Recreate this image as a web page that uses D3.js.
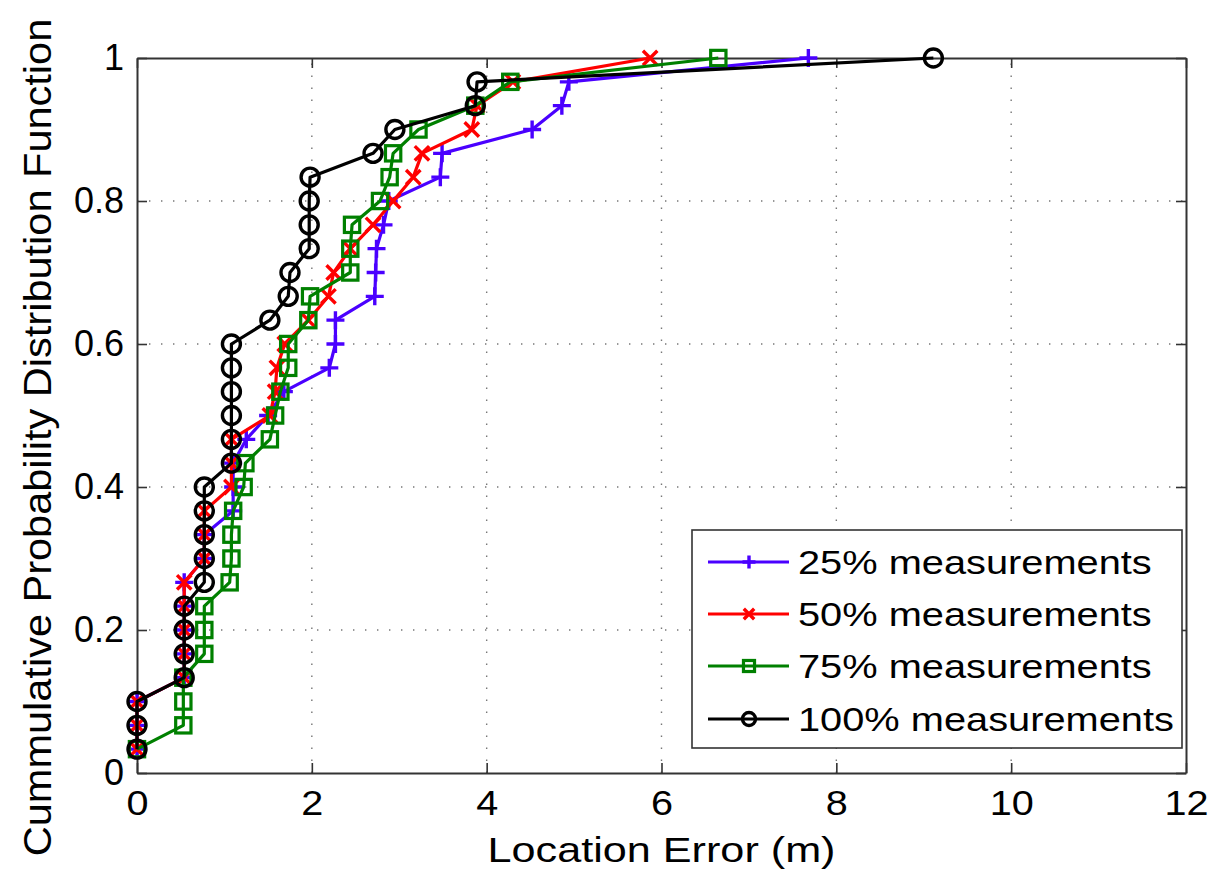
<!DOCTYPE html>
<html><head><meta charset="utf-8">
<script src="https://cdn.jsdelivr.net/npm/d3@7"></script>
<style>
html,body{margin:0;padding:0;background:#fff;}
svg text{font-family:"Liberation Sans",Arial,Helvetica,sans-serif;fill:#000;}
</style></head>
<body>
<svg id="chart" width="1211" height="872"></svg>
<script>
// CDF levels (k/30)
const cdfLevels = d3.range(1, 31).map(k => k / 30);
// Location errors (m) per series
const err25  = [0,0,0,0.54,0.54,0.54,0.54,0.54,0.77,0.77,1.1,1.1,1.1,1.25,1.5,1.68,2.2,2.27,2.27,2.72,2.73,2.74,2.82,2.88,3.47,3.49,4.52,4.86,4.94,7.68];
const err50  = [0,0,0,0.54,0.54,0.54,0.54,0.54,0.77,0.77,0.77,1.08,1.08,1.08,1.52,1.58,1.6,1.69,1.96,2.19,2.25,2.44,2.7,2.93,3.16,3.26,3.83,3.89,4.3,5.87];
const err75  = [0,0.53,0.53,0.53,0.77,0.77,0.77,1.06,1.08,1.08,1.1,1.22,1.24,1.52,1.58,1.64,1.73,1.73,1.96,1.98,2.44,2.44,2.46,2.78,2.89,2.93,3.22,3.87,4.27,6.65];
const err100 = [0,0,0,0.54,0.54,0.54,0.54,0.77,0.77,0.77,0.77,0.77,1.08,1.08,1.08,1.08,1.08,1.08,1.52,1.73,1.75,1.97,1.97,1.97,1.98,2.7,2.95,3.87,3.89,9.11];
const seriesNames = ["25% measurements","50% measurements","75% measurements","100% measurements"];
const seriesColors = ["#4a00ff","#ff0000","#008000","#000000"];
const seriesMarkers = ["plus","cross","square","circle"];
const xTicks = [0,2,4,6,8,10,12];
const yTicks = [0,0.2,0.4,0.6,0.8,1];
const xLabel = "Location Error (m)";
const yLabel = "Cummulative Probability Distribution Function";

const seriesErr = [err25, err50, err75, err100];

const svg = d3.select("#chart");
const L = 137, R = 1186, T = 58, B = 773;
const x = d3.scaleLinear().domain([0,12]).range([L,R]);
const y = d3.scaleLinear().domain([0,1]).range([B,T]);

// grid
const grid = svg.append("g").attr("stroke","#777").attr("stroke-width",1.4).attr("stroke-dasharray","1.4,10.6");
xTicks.slice(1,-1).forEach(t => grid.append("line").attr("x1",x(t)).attr("x2",x(t)).attr("y1",B).attr("y2",T));
yTicks.slice(1,-1).forEach(t => grid.append("line").attr("x1",L).attr("x2",R).attr("y1",y(t)).attr("y2",y(t)));

// axes (MATLAB style: ticks inward, box)
const tickLen = 10;
const axB = svg.append("g").attr("transform",`translate(0,${B})`).call(d3.axisBottom(x).tickValues(xTicks).tickFormat(d3.format("d")).tickSizeInner(-tickLen).tickSizeOuter(0).tickPadding(16));
const axT = svg.append("g").attr("transform",`translate(0,${T})`).call(d3.axisTop(x).tickValues(xTicks).tickFormat("").tickSizeInner(-tickLen).tickSizeOuter(0));
const axLft = svg.append("g").attr("transform",`translate(${L},0)`).call(d3.axisLeft(y).tickValues(yTicks).tickFormat(d => d===0||d===1? d3.format("d")(d) : d3.format(".1f")(d)).tickSizeInner(-tickLen).tickSizeOuter(0).tickPadding(13));
const axRgt = svg.append("g").attr("transform",`translate(${R},0)`).call(d3.axisRight(y).tickValues(yTicks).tickFormat("").tickSizeInner(-tickLen).tickSizeOuter(0));
[axB,axT,axLft,axRgt].forEach(a => {
  a.select(".domain").attr("stroke","#333").attr("stroke-width",2);
  a.selectAll(".tick line").attr("stroke","#333").attr("stroke-width",1.6);
  a.selectAll("text").style("font-size","36px").attr("fill","#000");
});
axB.selectAll("text").attr("dy","0.71em").attr("transform","scale(1.1,1)");

// lines & markers
const line = d3.line().x(d => x(d[0])).y(d => y(d[1]));
function drawMarker(g, type, cx, cy, color, s) {
  if (type === "plus") {
    g.append("path").attr("d",`M${cx-s},${cy}H${cx+s}M${cx},${cy-s}V${cy+s}`).attr("stroke",color).attr("stroke-width",3.4).attr("fill","none");
  } else if (type === "cross") {
    const c = s*0.8;
    g.append("path").attr("d",`M${cx-c},${cy-c}L${cx+c},${cy+c}M${cx-c},${cy+c}L${cx+c},${cy-c}`).attr("stroke",color).attr("stroke-width",3.4).attr("fill","none");
  } else if (type === "square") {
    const c = s*0.85;
    g.append("rect").attr("x",cx-c).attr("y",cy-c).attr("width",2*c).attr("height",2*c).attr("stroke",color).attr("stroke-width",3.2).attr("fill","none");
  } else {
    g.append("circle").attr("cx",cx).attr("cy",cy).attr("r",s).attr("stroke",color).attr("stroke-width",3.4).attr("fill","none");
  }
}
seriesErr.forEach((errs, i) => {
  const pts = errs.map((e, k) => [e, cdfLevels[k]]);
  const g = svg.append("g");
  g.append("path").datum(pts).attr("d", line).attr("fill","none").attr("stroke",seriesColors[i]).attr("stroke-width",3.2).attr("stroke-linejoin","round");
  pts.forEach(p => drawMarker(g, seriesMarkers[i], x(p[0]), y(p[1]), seriesColors[i], 9));
});

// legend
const lg = svg.append("g");
const lgX = 692, lgY = 530, lgW = 490, lgH = 218;
lg.append("rect").attr("x",lgX).attr("y",lgY).attr("width",lgW).attr("height",lgH).attr("fill","#fff").attr("stroke","#333").attr("stroke-width",1.6);
const rowY = [562, 614, 666, 719];
seriesNames.forEach((name, i) => {
  const ry = rowY[i];
  lg.append("line").attr("x1",708).attr("x2",789).attr("y1",ry).attr("y2",ry).attr("stroke",seriesColors[i]).attr("stroke-width",3.2);
  drawMarker(lg, seriesMarkers[i], 749, ry, seriesColors[i], 6.5);
  lg.append("text").attr("transform",`translate(798,${ry}) scale(1.17,1)`).attr("dy","0.36em").style("font-size","34px").text(name);
});

// axis labels
svg.append("text").attr("transform",`translate(${(L+R)/2},862) scale(1.2,1)`).attr("text-anchor","middle").style("font-size","36px").text(xLabel);
svg.append("text").attr("transform",`translate(51,${(B+T)/2+22}) rotate(-90) scale(1.065,1)`).attr("text-anchor","middle").style("font-size","39px").text(yLabel);
</script>
</body></html>
